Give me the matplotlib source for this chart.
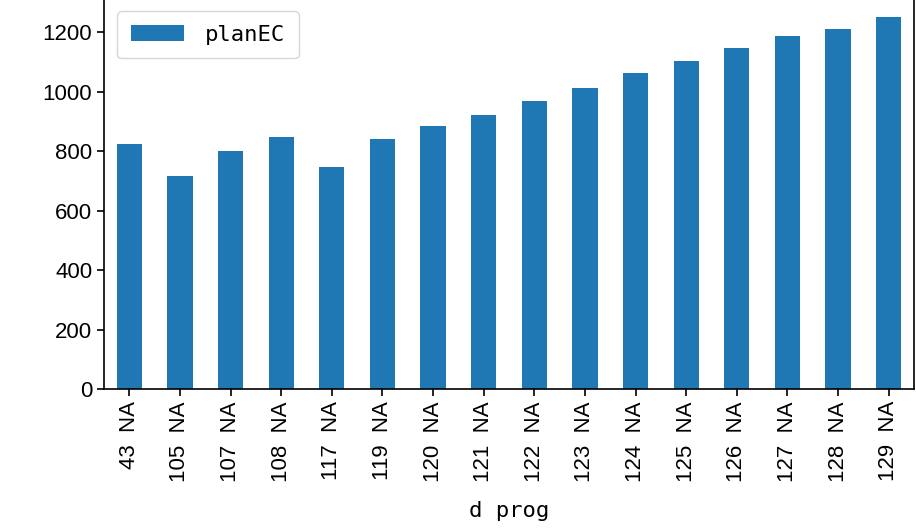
import matplotlib
matplotlib.use("Agg")
import matplotlib.pyplot as plt
import numpy as np

# data
d_prog = ["43", "105", "107", "108", "117", "119", "120", "121",
          "122", "123", "124", "125", "126", "127", "128", "129"]
suffix = "NA"
plan_ec = [824, 718, 801, 846, 747, 841, 885, 922,
           969, 1013, 1063, 1104, 1147, 1188, 1211, 1252]

tick_labels = [f"{d}  {suffix}" for d in d_prog]

plt.rcParams["font.family"] = ["Liberation Sans", "DejaVu Sans"]

fig = plt.figure(figsize=(9.16, 5.28), dpi=100)
ax = fig.add_axes([0.1135, 0.2627, 0.8843, 0.7411])

x = np.arange(len(plan_ec))
ax.bar(x, plan_ec, width=0.5, color="#1f77b4", label="planEC")
ax.set_xlim(-0.5, len(plan_ec) - 0.5)
ax.set_ylim(0, max(plan_ec) * 1.05)
ax.set_yticks(np.arange(0, 1201, 200))
ax.set_xticks(x)
ax.set_xticklabels(tick_labels, rotation=90)
ax.tick_params(labelsize=16, length=5, width=1.2)
for s in ax.spines.values():
    s.set_linewidth(1.2)

ax.set_xlabel("d prog", fontsize=16, family="DejaVu Sans Mono", labelpad=14)
leg = ax.legend(loc="upper left", prop={"family": "DejaVu Sans Mono", "size": 16},
                handlelength=2.4, borderpad=0.6, handletextpad=0.95,
                borderaxespad=0.6)

fig.savefig("out.png", dpi=100)
